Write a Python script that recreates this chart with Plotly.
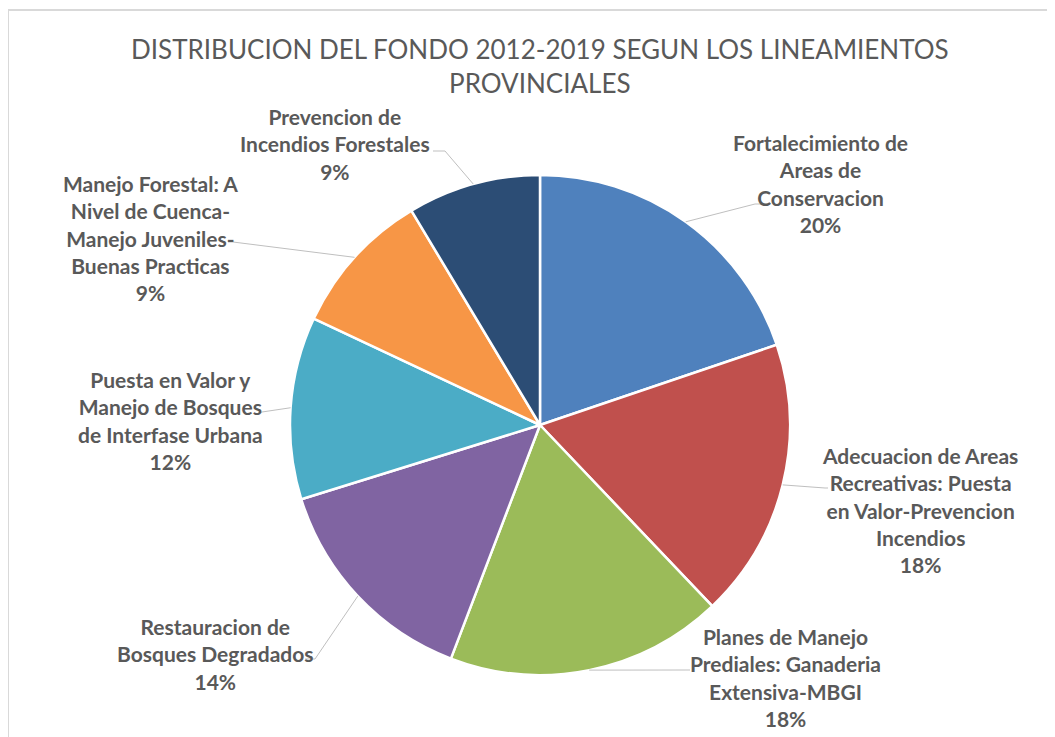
import math
import plotly.graph_objects as go

# ---- data ----
categories = [
    "Fortalecimiento de<br>Areas de<br>Conservacion",
    "Adecuacion de Areas<br>Recreativas: Puesta<br>en Valor-Prevencion<br>Incendios",
    "Planes de Manejo<br>Prediales: Ganaderia<br>Extensiva-MBGI",
    "Restauracion de<br>Bosques Degradados",
    "Puesta en Valor y<br>Manejo de Bosques<br>de Interfase Urbana",
    "Manejo Forestal: A<br>Nivel de Cuenca-<br>Manejo Juveniles-<br>Buenas Practicas",
    "Prevencion de<br>Incendios Forestales",
]
values = [19.8, 18.1, 17.9, 14.4, 11.8, 9.4, 8.6]
colors = ["#4F81BD", "#C0504D", "#9BBB59", "#8064A2", "#4BACC6", "#F79646", "#2C4D75"]

# ---- layout constants (window pixels) ----
OFF = 8  # page body margin
W, H = 1055 - OFF, 737 - OFF
CX, CY, R = 540, 425, 250
label_pos = [(820, 143), (920, 455), (785, 637), (215, 627), (170, 380), (150, 183), (335, 117)]
elbow = [(755, 204), (825, 488), (685, 670), (315, 659), (262, 412), (233, 242), (445, 151)]
stubs = [((755, 204), (765, 204)), ((825, 488), (828, 488)), ((685, 670), (690, 670)),
         ((305, 659), (315, 659)), ((258, 413), (262, 412)), ((228, 242), (233, 242)),
         ((433, 151), (445, 151))]
LINE_H = 27.3
TEXT_COLOR = "#595959"
LEADER = "#BFBFBF"

def px(x):
    return (x - OFF) / W

def py(y):
    return 1 - (y - OFF) / H

fig = go.Figure(go.Pie(
    labels=[c.replace("<br>", " ") for c in categories],
    values=values,
    sort=False,
    direction="clockwise",
    rotation=0,
    marker=dict(colors=colors, line=dict(color="white", width=2.5)),
    textinfo="none",
    hoverinfo="label+percent",
    domain=dict(x=[px(CX - R), px(CX + R)], y=[py(CY + R), py(CY - R)]),
    showlegend=False,
))

total = sum(values)
shapes = []
annotations = []
cum = 0
for i, (cat, v) in enumerate(zip(categories, values)):
    mid = (cum + v / 2) / total * 2 * math.pi
    cum += v
    ex = CX + R * math.sin(mid)
    ey = CY - R * math.cos(mid)
    bx, by = elbow[i]
    shapes.append(dict(type="line", xref="paper", yref="paper",
                       x0=px(ex), y0=py(ey), x1=px(bx), y1=py(by),
                       line=dict(color=LEADER, width=1)))
    pct = f"{round(v / total * 100):.0f}%"
    text = cat + "<br>" + pct
    nlines = text.count("<br>") + 1
    lx, ly = label_pos[i]
    ycenter = ly + (nlines - 1) * LINE_H / 2
    annotations.append(dict(
        text=text, x=px(lx), y=py(ycenter), xref="paper", yref="paper",
        xanchor="center", yanchor="middle", showarrow=False, align="center",
        font=dict(family="Lato", size=21, color=TEXT_COLOR, weight="bold"),
    ))

for (a, b) in stubs:
    shapes.append(dict(type="line", xref="paper", yref="paper",
                       x0=px(a[0]), y0=py(a[1]), x1=px(b[0]), y1=py(b[1]),
                       line=dict(color=LEADER, width=1)))

# chart border
shapes.append(dict(type="rect", xref="paper", yref="paper",
                   x0=px(8), y0=py(H + OFF + 5), x1=px(W + OFF + 5), y1=py(10),
                   line=dict(color="#D9D9D9", width=2), fillcolor="rgba(0,0,0,0)"))

annotations.append(dict(
    text="DISTRIBUCION DEL FONDO 2012-2019 SEGUN LOS LINEAMIENTOS<br>PROVINCIALES",
    x=px(540), y=py(66), xref="paper", yref="paper", xanchor="center", yanchor="middle",
    showarrow=False, align="center",
    font=dict(family="Lato", size=26, color=TEXT_COLOR),
))

fig.update_layout(
    width=W, height=H,
    margin=dict(l=0, r=0, t=0, b=0),
    paper_bgcolor="white",
    plot_bgcolor="white",
    shapes=shapes,
    annotations=annotations,
)

fig.write_html("out.html")
